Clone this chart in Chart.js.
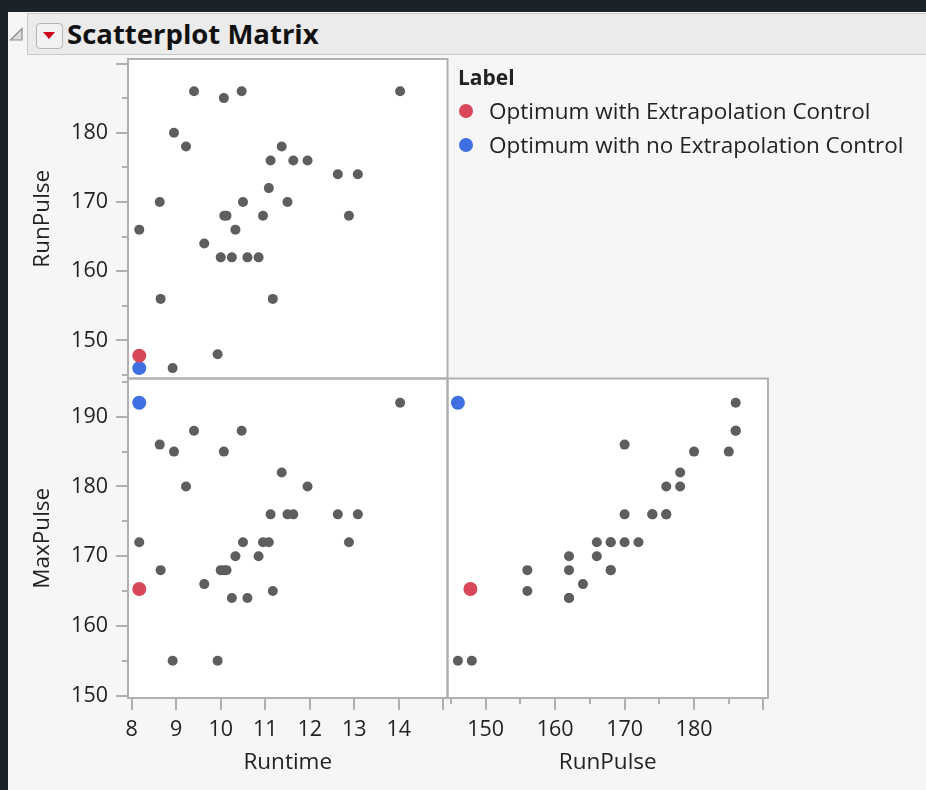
<!DOCTYPE html>
<html>
<head>
<meta charset="utf-8">
<script src="https://cdn.jsdelivr.net/npm/chart.js@4/dist/chart.umd.min.js"></script>
<style>
  html, body { margin: 0; padding: 0; }
  body { width: 926px; height: 790px; background: #1b2329; position: relative; overflow: hidden; font-family: "Open Sans", sans-serif; }
  #panel { position: absolute; left: 8px; top: 12px; right: 0; bottom: 0; background: #f6f6f6; }
  #hdr { position: absolute; left: 27px; top: 13px; width: 910px; height: 42px; background: #ebebeb; border: 1px solid #c8c8c8; box-sizing: border-box; }
  #disc { position: absolute; left: 9px; top: 27px; }
  #btn { position: absolute; left: 36px; top: 23px; width: 27px; height: 26px; border: 1px solid #b4b4b4; border-radius: 4px; background: #f2f2f2; box-sizing: border-box; }
  #btn::after { content: ""; position: absolute; left: 6px; top: 8px; border-left: 6.5px solid transparent; border-right: 6.5px solid transparent; border-top: 7px solid #d0021b; }
  #title { position: absolute; left: 67px; top: 13px; height: 42px; line-height: 42px; font-weight: bold; font-size: 27.5px; color: #111; white-space: nowrap; }
  #chart { position: absolute; left: 0; top: 0; }
  .lg { position: absolute; white-space: nowrap; font-size: 22.5px; color: #222; line-height: 34px; height: 34px; }
  .dot { position: absolute; width: 14px; height: 14px; border-radius: 50%; }
</style>
</head>
<body>
<div id="panel"></div>
<div id="hdr"></div>
<svg id="disc" width="15" height="15"><polygon points="13,1.5 13,13 1.5,13" fill="#dcdcdc" stroke="#8e8e8e" stroke-width="1.2"/></svg>
<div id="btn"></div>
<div id="title">Scatterplot Matrix</div>
<canvas id="chart" width="926" height="790"></canvas>
<div id="legend"></div>
<script>
// ---------- data (Fitness data, 31 rows) ----------
const varNames = ['Runtime', 'RunPulse', 'MaxPulse'];
const runtime  = [11.37, 10.07, 8.65, 8.17, 9.22, 11.63, 11.95, 10.85, 13.08, 8.63, 10.13, 14.03, 11.12, 10.60, 10.33, 8.95, 10.95, 10.00, 10.25, 10.08, 12.63, 11.17, 9.63, 8.92, 11.08, 12.88, 10.47, 9.93, 9.40, 11.50, 10.50];
const runPulse = [178, 185, 156, 166, 178, 176, 176, 162, 174, 170, 168, 186, 176, 162, 166, 180, 168, 162, 162, 168, 174, 156, 164, 146, 172, 168, 186, 148, 186, 170, 170];
const maxPulse = [182, 185, 168, 172, 180, 176, 180, 170, 176, 186, 168, 192, 176, 164, 170, 185, 172, 168, 164, 168, 176, 165, 166, 155, 172, 172, 188, 155, 188, 176, 172];

// labelled optimum rows
const optLabels   = ['Optimum with Extrapolation Control', 'Optimum with no Extrapolation Control'];
const optRuntime  = [8.17, 8.17];
const optRunPulse = [147.8, 146];
const optMaxPulse = [165.3, 192];

// axis ticks and labels
const runtimeTicks  = [8, 9, 10, 11, 12, 13, 14, 15];
const runtimeLabels = ['8', '9', '10', '11', '12', '13', '14'];
const runPulseTicks  = [145, 150, 155, 160, 165, 170, 175, 180, 185, 190];
const runPulseLabels = ['150', '160', '170', '180'];
const maxPulseTicks  = [150, 155, 160, 165, 170, 175, 180, 185, 190, 195];
const maxPulseLabels = ['150', '160', '170', '180', '190'];

// axis ranges
const runtimeRange  = [7.917, 15.094];
const runPulseRange = [144.5, 190.65];
const maxPulseRange = [149.67, 195.48];

// ---------- styles ----------
const FONT = '"Open Sans", sans-serif';
const TEXT = '#222222';
const GREY = '#5e5e5e';
const OPT_COLORS = ['#d9475a', '#3f6fe0'];
const FRAME = '#b0b0b0';

// legend (HTML)
(function () {
  const lg = document.getElementById('legend');
  const head = document.createElement('div');
  head.className = 'lg';
  head.style.left = '458px'; head.style.top = '60px'; head.style.fontWeight = 'bold'; head.style.fontSize = '21px';
  head.textContent = 'Label';
  lg.appendChild(head);
  optLabels.forEach((t, i) => {
    const d = document.createElement('div');
    d.className = 'dot';
    d.style.left = '459px'; d.style.top = (104 + i * 34) + 'px';
    d.style.background = OPT_COLORS[i];
    lg.appendChild(d);
    const s = document.createElement('div');
    s.className = 'lg';
    s.style.left = '489px'; s.style.top = (94 + i * 34) + 'px';
    s.textContent = t;
    lg.appendChild(s);
  });
})();

function axis(o) {
  const left = o.pos === 'left';
  return {
    type: 'linear', position: o.pos, stack: o.stack, stackWeight: o.sw, weight: o.w,
    min: o.range[0], max: o.range[1],
    grid: { display: false, drawTicks: false },
    border: { display: false },
    afterBuildTicks: s => { s.ticks = o.ticks.map(v => ({ value: v })); },
    ticks: {
      autoSkip: false, maxRotation: 0, minRotation: 0,
      padding: left ? 20 : 19, color: TEXT, font: { family: FONT, size: 21.5 },
      callback: v => (o.labels.includes(String(v)) ? String(v) : '')
    },
    title: {
      display: true, text: o.title, color: TEXT, font: { family: FONT, size: 22.5 },
      padding: left ? { top: 29, bottom: 0 } : { top: 0, bottom: 13.5 }
    },
    afterFit: s => { if (left) s.width = 128; else s.height = 92; },
    majorStep: o.major
  };
}

const scales = {
  xRt: axis({ pos: 'bottom', stack: 'x', sw: 319.5, w: 1, range: runtimeRange, ticks: runtimeTicks, labels: runtimeLabels, title: varNames[0], major: 1 }),
  xRp: axis({ pos: 'bottom', stack: 'x', sw: 320.5, w: 2, range: runPulseRange, ticks: runPulseTicks, labels: runPulseLabels, title: varNames[1], major: 10 }),
  yRp: axis({ pos: 'left', stack: 'y', sw: 1, w: 2, range: runPulseRange, ticks: runPulseTicks, labels: runPulseLabels, title: varNames[1], major: 10 }),
  yMp: axis({ pos: 'left', stack: 'y', sw: 1, w: 1, range: maxPulseRange, ticks: maxPulseTicks, labels: maxPulseLabels, title: varNames[2], major: 10 })
};

const panels = [
  { x: 'xRt', y: 'yRp', xs: runtime,  ys: runPulse, ox: optRuntime,  oy: optRunPulse },
  { x: 'xRt', y: 'yMp', xs: runtime,  ys: maxPulse, ox: optRuntime,  oy: optMaxPulse },
  { x: 'xRp', y: 'yMp', xs: runPulse, ys: maxPulse, ox: optRunPulse, oy: optMaxPulse }
];

const datasets = [];
panels.forEach(p => {
  datasets.push({
    label: 'rows', xAxisID: p.x, yAxisID: p.y, clip: false,
    data: p.xs.map((v, i) => ({ x: v, y: p.ys[i] })),
    pointRadius: 5, pointHoverRadius: 5, pointBorderWidth: 0,
    pointBackgroundColor: GREY, showLine: false
  });
  optLabels.forEach((lab, k) => {
    datasets.push({
      label: lab, xAxisID: p.x, yAxisID: p.y, clip: false,
      data: [{ x: p.ox[k], y: p.oy[k] }],
      pointRadius: 7, pointHoverRadius: 7, pointBorderWidth: 0,
      pointBackgroundColor: OPT_COLORS[k], showLine: false
    });
  });
});

const framePlugin = {
  id: 'frames',
  beforeDraw(chart) {
    const ctx = chart.ctx;
    ctx.save();
    panels.forEach(p => {
      const xs = chart.scales[p.x], ys = chart.scales[p.y];
      ctx.fillStyle = '#ffffff';
      ctx.fillRect(xs.left, ys.top, xs.right - xs.left, ys.bottom - ys.top);
    });
    ctx.strokeStyle = FRAME;
    ctx.lineWidth = 2;
    panels.forEach(p => {
      const xs = chart.scales[p.x], ys = chart.scales[p.y];
      ctx.strokeRect(xs.left, ys.top, xs.right - xs.left, ys.bottom - ys.top);
    });
    // tick marks
    Object.keys(scales).forEach(id => {
      const s = chart.scales[id];
      const step = s.options.majorStep;
      s.ticks.forEach(t => {
        const major = Math.abs(t.value / step - Math.round(t.value / step)) < 1e-6;
        const len = major ? 12 : 6;
        const px = Math.round(s.getPixelForValue(t.value));
        ctx.beginPath();
        if (s.isHorizontal()) { ctx.moveTo(px, s.top); ctx.lineTo(px, s.top + len); }
        else { ctx.moveTo(s.right, px); ctx.lineTo(s.right - len, px); }
        ctx.stroke();
      });
    });
    ctx.restore();
  }
};

new Chart(document.getElementById('chart'), {
  type: 'scatter',
  data: { datasets },
  options: {
    responsive: false, animation: false, events: [],
    layout: { padding: { left: 0, top: 59, right: 158, bottom: 0 } },
    plugins: { legend: { display: false }, tooltip: { enabled: false } },
    scales
  },
  plugins: [framePlugin]
});
</script>
</body>
</html>
